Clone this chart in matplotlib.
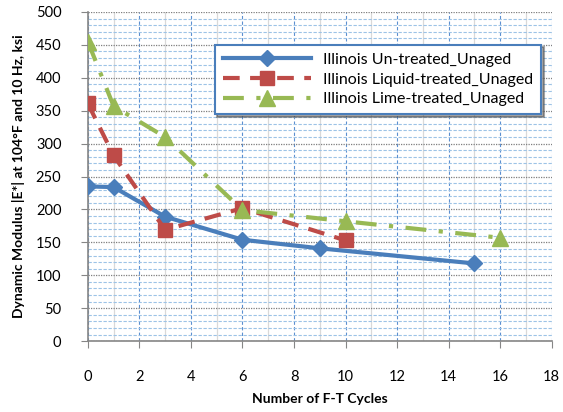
import matplotlib
matplotlib.use("Agg")
import matplotlib.pyplot as plt
from matplotlib.ticker import MultipleLocator

plt.rcParams['font.family'] = ['Lato', 'DejaVu Sans']

# F-T cycle counts and dynamic modulus |E*| (ksi)
cycles_untreated = [0, 1, 3, 6, 9, 15]
modulus_untreated = [235, 234, 189, 154, 141, 118]

cycles_liquid = [0, 1, 3, 6, 10]
modulus_liquid = [361, 282, 169, 202, 153]

cycles_lime = [0, 1, 3, 6, 10, 16]
modulus_lime = [455, 357, 310, 199, 182, 157]

labels = ["Illinois Un-treated_Unaged",
          "Illinois Liquid-treated_Unaged",
          "Illinois Lime-treated_Unaged"]

fig = plt.figure(figsize=(5.63, 4.12), dpi=100)
ax = fig.add_axes([0.156, 0.172, 0.824, 0.799])

ax.set_xlim(0, 18)
ax.set_ylim(0, 500)
ax.xaxis.set_major_locator(MultipleLocator(2))
ax.xaxis.set_minor_locator(MultipleLocator(1))
ax.yaxis.set_major_locator(MultipleLocator(50))
ax.yaxis.set_minor_locator(MultipleLocator(10))

ax.grid(which='minor', axis='y', color='#9dc3e6', linestyle=(0, (3, 1.5)), linewidth=0.8)
ax.grid(which='minor', axis='x', color='#d9d9d9', linestyle='-', linewidth=0.9)
ax.grid(which='major', axis='y', color='#7f7f7f', linestyle=(0, (1, 1)), linewidth=0.9)
ax.grid(which='major', axis='x', color='#5b8fd0', linestyle=(0, (3, 2)), linewidth=0.8)
ax.set_axisbelow(True)

for s in ['top', 'right']:
    ax.spines[s].set_visible(False)
for s in ['left', 'bottom']:
    ax.spines[s].set_color('#868686')
    ax.spines[s].set_linewidth(1.2)

ax.tick_params(which='major', direction='out', length=5, color='#868686',
               labelsize=10.5, labelcolor='#000000')
ax.tick_params(axis='x', which='major', pad=16)
ax.tick_params(axis='y', which='major', pad=14)
ax.tick_params(which='minor', length=0)

ax.plot(cycles_untreated, modulus_untreated, color='#4a7ebb', linewidth=3,
        linestyle='-', marker='D', markersize=8, label=labels[0], zorder=3)
ax.plot(cycles_liquid, modulus_liquid, color='#be4b48', linewidth=3,
        linestyle=(0, (4, 2.5)), marker='s', markersize=10, label=labels[1], zorder=4)
ax.plot(cycles_lime, modulus_lime, color='#98b954', linewidth=3,
        linestyle=(0, (5, 3, 1, 3)), marker='^', markersize=11, label=labels[2], zorder=5)

ax.set_xlabel("Number of F-T Cycles", fontsize=10, fontweight='bold', labelpad=6)
ax.set_ylabel("Dynamic Modulus |E*| at 104\u00b0F and 10 Hz, ksi", fontsize=10,
              fontweight='bold', labelpad=8)

leg = ax.legend(loc='upper right', bbox_to_anchor=(0.995, 0.925), fontsize=11.5,
                frameon=True, fancybox=False, shadow=True, handlelength=5.5,
                borderpad=0.5, labelspacing=0.35)
leg.get_frame().set_edgecolor('#4a7ebb')
leg.get_frame().set_linewidth(1.5)
leg.get_frame().set_facecolor('white')

fig.savefig("out.png", dpi=100)
